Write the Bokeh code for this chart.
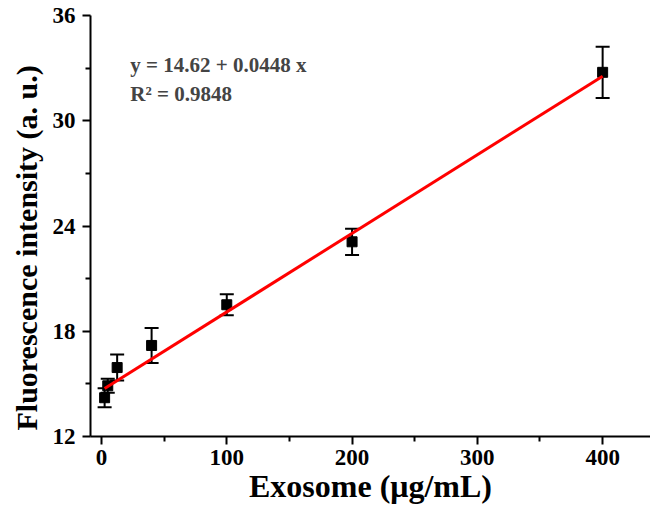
from bokeh.plotting import figure
from bokeh.models import ColumnDataSource, Whisker, TeeHead, FixedTicker, Range1d, Label, Title
from bokeh.embed import file_html
from bokeh.resources import INLINE

# data
concentration = [2.5, 5, 12.5, 40, 100, 200, 400]
intensity = [14.21, 14.89, 15.93, 17.19, 19.51, 23.10, 32.76]
error = [0.54, 0.40, 0.74, 1.00, 0.60, 0.75, 1.46]
intercept = 14.62
slope = 0.0448
r_squared = 0.9848
x_ticks = [0, 100, 200, 300, 400]
x_minor = [50, 150, 250, 350]
y_ticks = [12, 18, 24, 30, 36]
y_minor = [15, 21, 27, 33]
x_title = "Exosome (μg/mL)"
y_title = "Fluorescence intensity (a. u.)"

FONT = "Liberation Serif"

upper = [v + e for v, e in zip(intensity, error)]
lower = [v - e for v, e in zip(intensity, error)]
src = ColumnDataSource(dict(x=concentration, y=intensity, upper=upper, lower=lower))

p = figure(width=650, height=506, output_backend="svg", toolbar_location=None,
           x_range=Range1d(-8.77, 438.2), y_range=Range1d(12, 36),
           min_border_left=89, min_border_right=0, min_border_top=15, min_border_bottom=68)
p.outline_line_color = None
p.xgrid.visible = False
p.ygrid.visible = False
p.background_fill_color = "white"
p.border_fill_color = "white"

for ax, ticks, minor in ((p.xaxis[0], x_ticks, x_minor), (p.yaxis[0], y_ticks, y_minor)):
    ax.ticker = FixedTicker(ticks=ticks, minor_ticks=minor)
    ax.axis_line_width = 2
    ax.major_tick_line_width = 2
    ax.minor_tick_line_width = 2
    ax.major_tick_out = 8
    ax.major_tick_in = 0
    ax.minor_tick_out = 5
    ax.minor_tick_in = 0
    ax.major_label_text_font = FONT
    ax.major_label_text_font_style = "bold"
    ax.major_label_text_font_size = "23px"
    ax.major_label_text_color = "black"
    ax.axis_label_text_font = FONT
    ax.axis_label_text_font_style = "bold"
    ax.axis_label_text_color = "black"

p.xaxis.axis_label = x_title
p.xaxis.axis_label_text_font_size = "32px"
p.xaxis.major_label_standoff = 5
p.xaxis.axis_label_standoff = 0
p.yaxis.major_label_standoff = 7

p.add_layout(Title(text=y_title, align="left", offset=6, standoff=14, text_font=FONT,
                   text_font_style="bold", text_font_size="30px", text_color="black"), "left")

p.add_layout(Whisker(source=src, base="x", upper="upper", lower="lower",
                     line_color="black", line_width=2,
                     upper_head=TeeHead(size=14, line_width=2, line_color="black"),
                     lower_head=TeeHead(size=14, line_width=2, line_color="black")))
p.scatter("x", "y", source=src, marker="square", size=10, color="black")

fit_x = [min(concentration), max(concentration)]
fit_y = [intercept + slope * v for v in fit_x]
p.line(fit_x, fit_y, line_color="red", line_width=3)

p.add_layout(Label(x=23, y=33.2, text=f"y = {intercept} + {slope} x", text_font=FONT,
                   text_font_style="bold", text_font_size="21px", text_baseline="middle"))
p.add_layout(Label(x=23, y=31.5, text=f"R² = {r_squared}", text_font=FONT,
                   text_font_style="bold", text_font_size="21px", text_baseline="middle"))

open("out.html", "w").write(file_html(p, INLINE))
